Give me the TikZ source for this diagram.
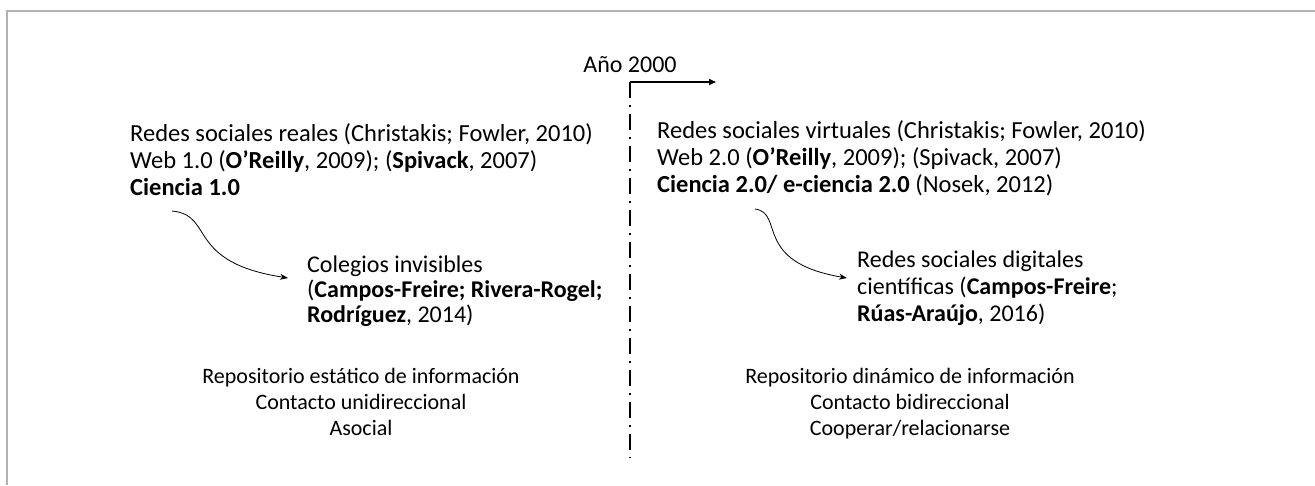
\documentclass[tikz,border=0pt]{standalone}
\usepackage{fontspec}
\setmainfont{Carlito}
\usetikzlibrary{arrows.meta,positioning}

\begin{document}
\begin{tikzpicture}[x=1pt,y=-1pt,
	txt/.style={inner sep=0pt,align=left,font=\fontsize{24.5}{27}\selectfont},
	ctxt/.style={inner sep=0pt,align=center,font=\fontsize{22}{26}\selectfont},
	curvearrow/.style={-{Stealth[length=8pt,width=6pt]},line width=0.8pt}]
	\useasboundingbox (0,0) rectangle (1315,485);
	\draw [draw=black!30!white,line width=2pt] (7,485) -- (7,11) -- (1315,11);
	% time line
	\node (year) at (630,72) [anchor=base,txt,font=\fontsize{24}{27}\selectfont] {Año 2000};
	\coordinate (corner) at (630,82);
	\coordinate (arrowend) at (716,82);
	\coordinate (lineend) at (630,458);
	\draw [line width=1.5pt,dash pattern=on 16pt off 7pt on 2pt off 7pt] (corner) -- (lineend);
	\draw [-{Triangle[length=7pt,width=6pt]},line width=1.5pt] (corner) -- (arrowend);
	% before
	\node (real) at (130,123) [anchor=north west,txt] {Redes sociales reales (Christakis; Fowler, 2010)\\
		Web 1.0 (\textbf{O’Reilly}, 2009); (\textbf{Spivack}, 2007)\\
		\textbf{Ciencia 1.0}};
	\node (colegios) at (307,256) [anchor=north west,txt,font=\fontsize{24}{25}\selectfont] {Colegios invisibles\\
		(\textbf{Campos-Freire; Rivera-Rogel;}\\
		\textbf{Rodríguez}, 2014)};
	\node (static) at (361,368) [anchor=north,ctxt] {Repositorio estático de información\\
		Contacto unidireccional\\
		Asocial};
	% after
	\node (virtual) at (657,120) [anchor=north west,txt] {Redes sociales virtuales (Christakis; Fowler, 2010)\\
		Web 2.0 (\textbf{O’Reilly}, 2009); (Spivack, 2007)\\
		\textbf{Ciencia 2.0/ e-ciencia 2.0} (Nosek, 2012)};
	\node (digital) at (857,251) [anchor=north west,txt,font=\fontsize{24}{27}\selectfont] {Redes sociales digitales\\
		científicas (\textbf{Campos-Freire};\\
		\textbf{Rúas-Araújo}, 2016)};
	\node (dynamic) at (910,368) [anchor=north,ctxt] {Repositorio dinámico de información\\
		Contacto bidireccional\\
		Cooperar/relacionarse};
	% curved arrows
	\coordinate (start1) at (172,211);
	\coordinate (start2) at (755,209);
	\draw [curvearrow] (start1) .. controls +(43,4) and +(-103,-16) .. ([shift={(-19,22)}]colegios.north west);
	\draw [curvearrow] (start2) .. controls +(30,4) and +(-95,-16) .. ([shift={(-10,27)}]digital.north west);
\end{tikzpicture}
\end{document}
